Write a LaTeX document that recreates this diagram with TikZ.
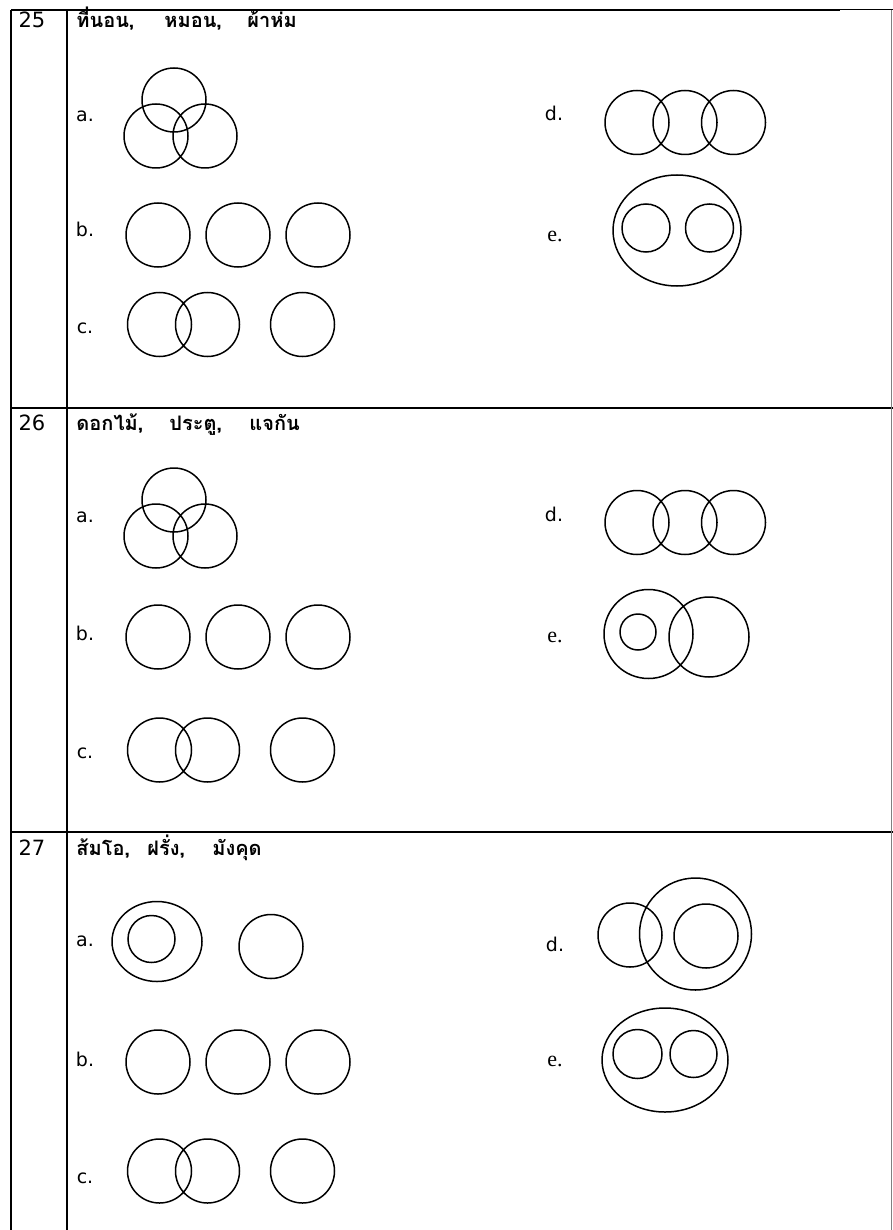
\documentclass[tikz,border=0pt]{standalone}
\usepackage{fontspec}
\setmainfont{DejaVu Sans}
\newfontfamily\thaifont[Script=Thai]{Loma}
\newfontfamily\serifopt{Liberation Serif}
\begin{document}
\begin{tikzpicture}[x=0.5pt,y=-0.5pt,
  ring/.style={line width=0.75pt},
  rule/.style={line width=1pt},
  num/.style={font=\fontsize{10.5}{12}\selectfont,anchor=base},
  opt/.style={font=\fontsize{9.5}{11}\selectfont,anchor=base},
  optserif/.style={font=\serifopt\fontsize{11}{13}\selectfont,anchor=base},
  word/.style={font=\thaifont\bfseries\fontsize{10}{12}\selectfont,anchor=base west,inner sep=0pt}]
  \useasboundingbox (0,0) rectangle (893,1230);
  % table lines
  \draw[line width=1.4pt] (11,10) -- (11,1230);
  \draw[rule] (67,10) -- (67,1230);
  \draw[rule] (11,10) -- (840,10);
  \draw[line width=0.5pt] (840,10) -- (893,10);
  \draw[rule] (11,408) -- (893,408);
  \draw[rule] (11,832) -- (893,832);
  \draw[line width=0.4pt,gray] (891,10) -- (891,1230);

  % item 25
  \node[num] (n25) at (32,28) {25};
  \node[word] (w25a) at (76,28) {ที่นอน,};
  \node[word] (w25b) at (164,28) {หมอน,};
  \node[word] (w25c) at (247,28) {ผ้าห่ม};
  \node[opt] (a25) at (85,122) {a.};
  \draw[ring] (174,100) circle (32) (156,136) circle (32) (205,136) circle (32);
  \node[opt] (b25) at (85,236) {b.};
  \draw[ring] (158,235) circle (32) (238,235) circle (32) (318,235) circle (32);
  \node[opt] (c25) at (85,333) {c.};
  \draw[ring] (159.5,324.5) circle (32) (207.5,324.5) circle (32) (302.5,324.5) circle (32);
  \node[opt] (d25) at (554,121) {d.};
  \draw[ring] (637,122.5) circle (32) (685,122.5) circle (32) (733.5,122.5) circle (32);
  \node[optserif] (e25) at (555,242) {e.};
  \draw[ring] (677,230.5) ellipse [x radius=64,y radius=55.5];
  \draw[ring] (646,228) circle (24) (709.5,228) circle (24);

  % item 26
  \node[num] (n26) at (32,430) {26};
  \node[word] (w26a) at (76,430) {ดอกไม้,};
  \node[word] (w26b) at (169,430) {ประตู,};
  \node[word] (w26c) at (249,430) {แจกัน};
  \node[opt] (a26) at (85,522) {a.};
  \draw[ring] (174,500) circle (32) (156,536) circle (32) (205,536) circle (32);
  \node[opt] (b26) at (85,640) {b.};
  \draw[ring] (158,637) circle (32) (238,637) circle (32) (318,637) circle (32);
  \node[opt] (c26) at (85,758) {c.};
  \draw[ring] (159.5,750) circle (32) (207.5,750) circle (32) (302.5,750) circle (32);
  \node[opt] (d26) at (554,521) {d.};
  \draw[ring] (637,522.5) circle (32) (685,522.5) circle (32) (733.5,522.5) circle (32);
  \node[optserif] (e26) at (555,642) {e.};
  \draw[ring] (648.5,634) circle (44.5) (638,632) circle (18) (709,637) circle (40);

  % item 27
  \node[num] (n27) at (32,855) {27};
  \node[word] (w27a) at (76,855) {ส้มโอ,};
  \node[word] (w27b) at (147,855) {ฝรั่ง,};
  \node[word] (w27c) at (212,855) {มังคุด};
  \node[opt] (a27) at (85,946) {a.};
  \draw[ring] (157,941.5) ellipse [x radius=45,y radius=40];
  \draw[ring] (151.5,939) circle (23.5) (271,946.5) circle (32);
  \node[opt] (b27) at (85,1066) {b.};
  \draw[ring] (158,1062) circle (32) (238,1062) circle (32) (318,1062) circle (32);
  \node[opt] (c27) at (85,1183) {c.};
  \draw[ring] (159.5,1171) circle (32) (207.5,1171) circle (32) (302.5,1171) circle (32);
  \node[opt] (d27) at (555,951) {d.};
  \draw[ring] (630,935) circle (32) (695.5,934) circle (56) (706,936) circle (32);
  \node[optserif] (e27) at (555,1066) {e.};
  \draw[ring] (665,1060) ellipse [x radius=63,y radius=52];
  \draw[ring] (637.5,1054) circle (24.5) (693.5,1054) circle (23.5);
\end{tikzpicture}
\end{document}
